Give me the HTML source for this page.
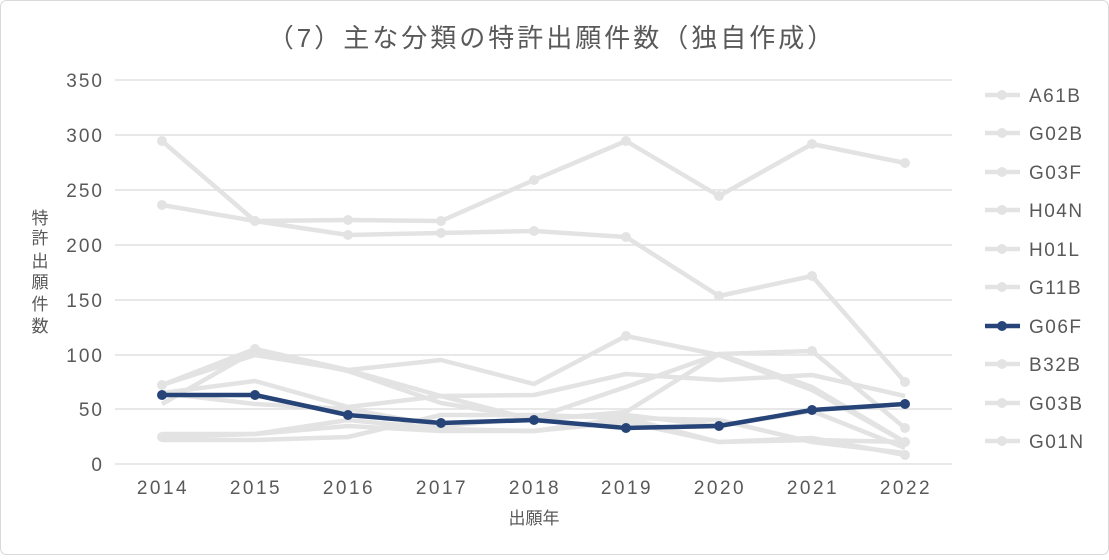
<!DOCTYPE html>
<html><head><meta charset="utf-8"><style>
body{margin:0;background:#fff}
svg text{font-family:"Liberation Sans","Noto Sans CJK JP",sans-serif;fill:#595959}
</style></head><body>
<svg width="1109" height="555" xmlns="http://www.w3.org/2000/svg">
<rect x="0.5" y="0.5" width="1108" height="554" rx="6" fill="#fff" stroke="#d9d9d9"/>
<text x="552" y="47" font-size="26" letter-spacing="3" text-anchor="middle">（7）主な分類の特許出願件数（独自作成）</text>
<g stroke="#d9d9d9" stroke-width="1.3">
<line x1="115" x2="952" y1="80" y2="80"/><line x1="115" x2="952" y1="135" y2="135"/>
<line x1="115" x2="952" y1="190" y2="190"/><line x1="115" x2="952" y1="245" y2="245"/>
<line x1="115" x2="952" y1="300" y2="300"/><line x1="115" x2="952" y1="355" y2="355"/>
<line x1="115" x2="952" y1="409" y2="409"/><line x1="115" x2="952" y1="464" y2="464"/>
</g>
<g font-size="19" letter-spacing="2" text-anchor="end">
<text x="104" y="87">350</text><text x="104" y="142">300</text><text x="104" y="197">250</text>
<text x="104" y="252">200</text><text x="104" y="307">150</text><text x="104" y="362">100</text>
<text x="104" y="416">50</text><text x="104" y="471">0</text>
</g>
<g font-size="19" letter-spacing="2.5" text-anchor="middle">
<text x="163" y="494">2014</text><text x="256" y="494">2015</text><text x="349" y="494">2016</text>
<text x="442" y="494">2017</text><text x="535" y="494">2018</text><text x="627" y="494">2019</text>
<text x="720" y="494">2020</text><text x="813" y="494">2021</text><text x="906" y="494">2022</text>
</g>
<text x="534" y="524" font-size="17" text-anchor="middle">出願年</text>
<g font-size="17" text-anchor="middle">
<text x="40" y="224">特</text><text x="40" y="244">許</text><text x="40" y="267">出</text>
<text x="40" y="288">願</text><text x="40" y="310">件</text><text x="40" y="332">数</text>
</g>
<g fill="none" stroke="#e3e3e3" stroke-width="4.5" stroke-linejoin="round">
<polyline points="162,141 255,221 348,220 441,221 534,180 626,141 719,196 812,144 905,163"/>
<polyline points="162,205 255,221 348,235 441,233 534,231 626,237 719,296 812,276 905,382"/>
<polyline points="162,385 255,349 348,370 441,396 534,420 626,412 719,354 812,351 905,428"/>
<polyline points="162,385 255,355 348,370 441,360 534,384 626,336 719,355 812,390 905,442"/>
<polyline points="162,393 255,381 348,407 441,396 534,395 626,374 719,380 812,375 905,396"/>
<polyline points="162,404 255,351 348,371 441,403 534,418 626,387 719,354 812,387 905,442"/>
<polyline points="162,393 255,404 348,409 441,426 534,418 626,415 719,426 812,411 905,448"/>
<polyline points="162,434 255,434 348,426 441,431 534,431 626,418 719,442 812,440 905,442"/>
<polyline points="162,440 255,440 348,437 441,415 534,415 626,418 719,420 812,442 905,453"/>
<polyline points="162,437 255,434 348,420 441,429 534,431 626,422 719,442 812,438 905,455"/>
</g>
<g fill="#e3e3e3">
<circle cx="162" cy="141" r="5"/><circle cx="255" cy="221" r="5"/><circle cx="348" cy="220" r="5"/><circle cx="441" cy="221" r="5"/><circle cx="534" cy="180" r="5"/><circle cx="626" cy="141" r="5"/><circle cx="719" cy="196" r="5"/><circle cx="812" cy="144" r="5"/><circle cx="905" cy="163" r="5"/>
<circle cx="162" cy="205" r="5"/><circle cx="255" cy="221" r="5"/><circle cx="348" cy="235" r="5"/><circle cx="441" cy="233" r="5"/><circle cx="534" cy="231" r="5"/><circle cx="626" cy="237" r="5"/><circle cx="719" cy="296" r="5"/><circle cx="812" cy="276" r="5"/><circle cx="905" cy="382" r="5"/>
<circle cx="255" cy="349" r="5"/><circle cx="626" cy="336" r="5"/><circle cx="812" cy="351" r="5"/><circle cx="905" cy="428" r="5"/><circle cx="905" cy="442" r="5"/><circle cx="905" cy="455" r="5"/><circle cx="162" cy="385" r="5"/><circle cx="162" cy="437" r="5"/>
</g>
<polyline fill="none" stroke="#264478" stroke-width="4.5" stroke-linejoin="round" points="162,395 255,395 348,415 441,423 534,420 626,428 719,426 812,410 905,404"/>
<g fill="#264478">
<circle cx="162" cy="395" r="5"/><circle cx="255" cy="395" r="5"/><circle cx="348" cy="415" r="5"/><circle cx="441" cy="423" r="5"/><circle cx="534" cy="420" r="5"/><circle cx="626" cy="428" r="5"/><circle cx="719" cy="426" r="5"/><circle cx="812" cy="410" r="5"/><circle cx="905" cy="404" r="5"/>
</g>
<g font-size="19" letter-spacing="1.5">
<g stroke="#e3e3e3" stroke-width="4.5"><line x1="985" x2="1020" y1="95" y2="95"/><line x1="985" x2="1020" y1="133" y2="133"/><line x1="985" x2="1020" y1="172" y2="172"/><line x1="985" x2="1020" y1="210" y2="210"/><line x1="985" x2="1020" y1="249" y2="249"/><line x1="985" x2="1020" y1="287" y2="287"/><line x1="985" x2="1020" y1="364" y2="364"/><line x1="985" x2="1020" y1="403" y2="403"/><line x1="985" x2="1020" y1="441" y2="441"/></g>
<g fill="#e3e3e3"><circle cx="1002" cy="95" r="5"/><circle cx="1002" cy="133" r="5"/><circle cx="1002" cy="172" r="5"/><circle cx="1002" cy="210" r="5"/><circle cx="1002" cy="249" r="5"/><circle cx="1002" cy="287" r="5"/><circle cx="1002" cy="364" r="5"/><circle cx="1002" cy="403" r="5"/><circle cx="1002" cy="441" r="5"/></g>
<line x1="985" x2="1020" y1="326" y2="326" stroke="#264478" stroke-width="4.5"/><circle cx="1002" cy="326" r="5" fill="#264478"/>
<text x="1029" y="102">A61B</text><text x="1029" y="140">G02B</text><text x="1029" y="179">G03F</text><text x="1029" y="217">H04N</text><text x="1029" y="256">H01L</text><text x="1029" y="294">G11B</text><text x="1029" y="333">G06F</text><text x="1029" y="371">B32B</text><text x="1029" y="410">G03B</text><text x="1029" y="448">G01N</text>
</g>
</svg>
</body></html>
